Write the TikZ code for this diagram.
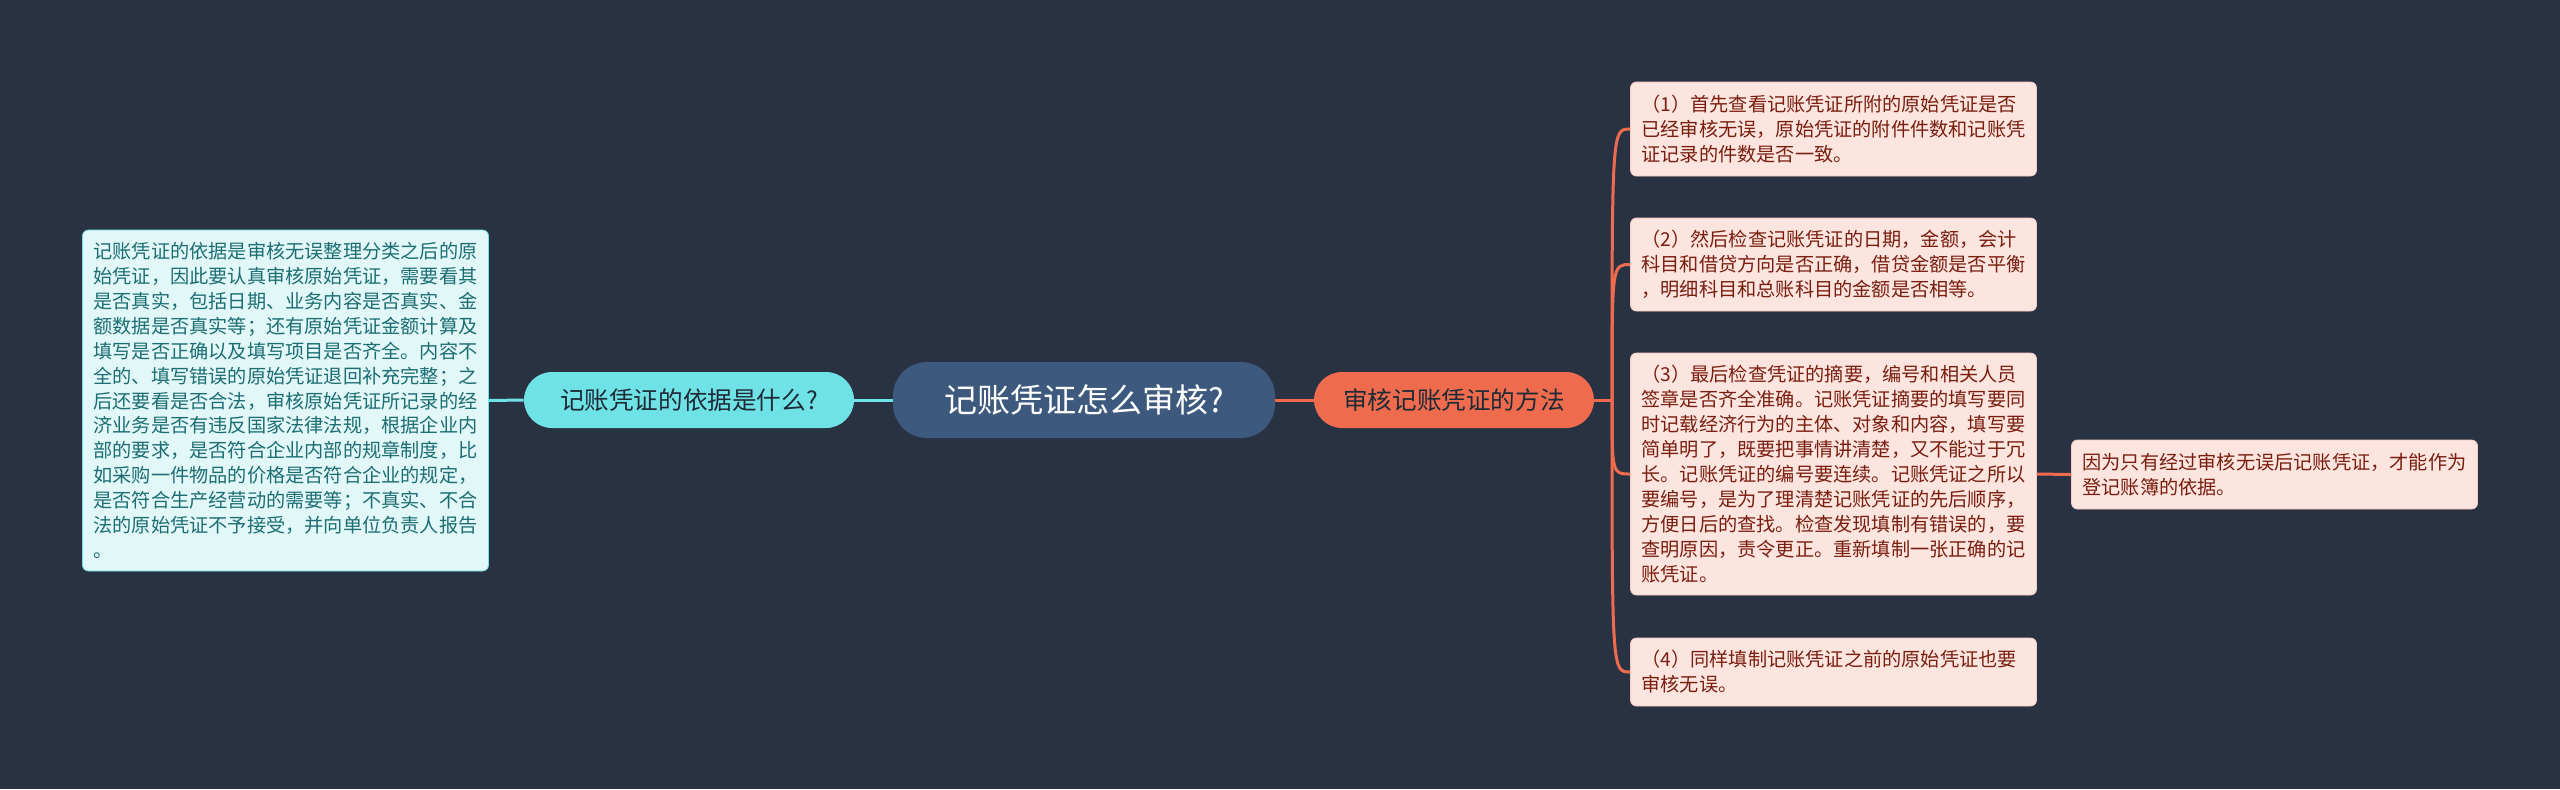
\documentclass[tikz,border=0pt]{standalone}
\usepackage{fontspec}
\setmainfont{Noto Sans CJK SC}
\usetikzlibrary{calc,positioning}
\definecolor{bgdark}{HTML}{283242}
\definecolor{rootblue}{HTML}{3D5A7E}
\definecolor{cyanbr}{HTML}{6FE2E5}
\definecolor{cyanleaf}{HTML}{E1F7F8}
\definecolor{tealtext}{HTML}{1C6E73}
\definecolor{orangebr}{HTML}{EE6C4D}
\definecolor{pinkleaf}{HTML}{FCE4DF}
\definecolor{redtext}{HTML}{7A1E10}
\definecolor{darktext}{HTML}{1E2A36}
\tikzset{
  root/.style={fill=rootblue,rounded corners=17pt,minimum width=191pt,minimum height=38pt,text=white,font=\fontsize{16.5pt}{20pt}\selectfont},
  branch/.style={rounded corners=14pt,minimum height=28pt,text=darktext,font=\fontsize{12.3pt}{15pt}\selectfont},
  leaf/.style={rounded corners=3pt,text width=192pt,align=left,inner xsep=5.5pt,inner ysep=2pt,line width=0.4pt,font=\fontsize{9.6pt}{12.45pt}\selectfont},
  bleaf/.style={leaf,fill=cyanleaf,draw=cyanbr,text=tealtext},
  mleaf/.style={leaf,fill=pinkleaf,draw=pinkleaf!80!orangebr,text=redtext},
  cline/.style={line width=1.5pt}
}

\begin{document}
\begin{tikzpicture}[x=0.5pt,y=-0.5pt]
  \fill[bgdark] (0,0) rectangle (2560,789);
  \useasboundingbox (0,0) rectangle (2560,789);
  \node[root] (audit) at (1084,400) {记账凭证怎么审核?};
  \node[branch,fill=cyanbr,minimum width=165pt] (basis) at (689,400) {记账凭证的依据是什么?};
  \node[branch,fill=orangebr,minimum width=140pt] (method) at (1454,400) {审核记账凭证的方法};
  \node[bleaf,minimum height=170.5pt] (basistext) at (285.5,400.5) {记账凭证的依据是审核无误整理分类之后的原\\始凭证，因此要认真审核原始凭证，需要看其\\是否真实，包括日期、业务内容是否真实、金\\额数据是否真实等；还有原始凭证金额计算及\\填写是否正确以及填写项目是否齐全。内容不\\全的、填写错误的原始凭证退回补充完整；之\\后还要看是否合法，审核原始凭证所记录的经\\济业务是否有违反国家法律法规，根据企业内\\部的要求，是否符合企业内部的规章制度，比\\如采购一件物品的价格是否符合企业的规定，\\是否符合生产经营动的需要等；不真实、不合\\法的原始凭证不予接受，并向单位负责人报告\\。};
  \node[mleaf,minimum height=47pt] (step1) at (1833.5,129) {（1）首先查看记账凭证所附的原始凭证是否\\已经审核无误，原始凭证的附件件数和记账凭\\证记录的件数是否一致。};
  \node[mleaf,minimum height=46.5pt] (step2) at (1833.5,264.5) {（2）然后检查记账凭证的日期，金额，会计\\科目和借贷方向是否正确，借贷金额是否平衡\\，明细科目和总账科目的金额是否相等。};
  \node[mleaf,minimum height=121pt] (step3) at (1833.5,474) {（3）最后检查凭证的摘要，编号和相关人员\\签章是否齐全准确。记账凭证摘要的填写要同\\时记载经济行为的主体、对象和内容，填写要\\简单明了，既要把事情讲清楚，又不能过于冗\\长。记账凭证的编号要连续。记账凭证之所以\\要编号，是为了理清楚记账凭证的先后顺序，\\方便日后的查找。检查发现填制有错误的，要\\查明原因，责令更正。重新填制一张正确的记\\账凭证。};
  \node[mleaf,minimum height=34pt] (step4) at (1833.5,672) {（4）同样填制记账凭证之前的原始凭证也要\\审核无误。};
  \node[mleaf,minimum height=34.5pt] (reason) at (2274.5,474.5) {因为只有经过审核无误后记账凭证，才能作为\\登记账簿的依据。};
  \coordinate (hub) at (1612,400);
  \draw[cline,cyanbr] (audit.west)--(basis.east);
  \draw[cline,cyanbr] (basis.west)--(basistext.east);
  \draw[cline,orangebr] (audit.east)--(method.west);
  \draw[cline,orangebr] (method.east)--(hub);
  \foreach \s in {step1,step2,step3,step4}
    \draw[cline,orangebr] (hub) .. controls (hub |- \s.west) .. (\s.west);
  \draw[cline,orangebr] (step3.east)--(reason.west);
\end{tikzpicture}
\end{document}
